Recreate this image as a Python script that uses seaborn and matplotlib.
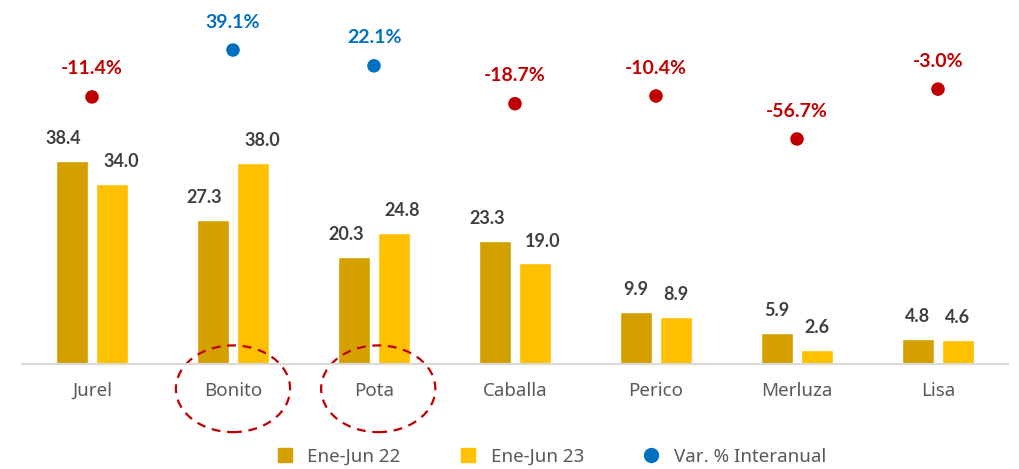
import numpy as np
import pandas as pd
import matplotlib
matplotlib.use('Agg')
import matplotlib.pyplot as plt
from matplotlib.lines import Line2D
from matplotlib.patches import Ellipse
import seaborn as sns

# Data
species = ['Jurel', 'Bonito', 'Pota', 'Caballa', 'Perico', 'Merluza', 'Lisa']
ene_jun_22 = [38.4, 27.3, 20.3, 23.3, 9.9, 5.9, 4.8]
ene_jun_23 = [34.0, 38.0, 24.8, 19.0, 8.9, 2.6, 4.6]
var_interanual = [-11.4, 39.1, 22.1, -18.7, -10.4, -56.7, -3.0]
series_names = ['Ene-Jun 22', 'Ene-Jun 23']
var_name = 'Var. % Interanual'
highlighted = ['Bonito', 'Pota']

dark_gold = '#D4A000'
gold = '#FFC000'
blue = '#0070C0'
red = '#C00000'

sns.set_style('white')
plt.rcParams['font.family'] = ['Noto Sans', 'DejaVu Sans']
bold_font = ['Lato', 'DejaVu Sans']

data = pd.DataFrame({
    'species': species * 2,
    'periodo': [series_names[0]] * len(species) + [series_names[1]] * len(species),
    'valor': ene_jun_22 + ene_jun_23,
})

fig = plt.figure(figsize=(10.2, 4.69), dpi=100)
ax = fig.add_axes([21.5 / 1020, 105 / 469, 987 / 1020, 354 / 469])

sns.barplot(data=data, x='species', y='valor', hue='periodo', order=species,
            hue_order=series_names, palette=[dark_gold, gold], saturation=1,
            width=0.567, gap=0.2, legend=False, ax=ax)
ax.set_ylim(0, 66.9)
ax.set_xlim(-0.5, len(species) - 0.5)

# bar value labels (slight outward nudge on the taller groups, like the source)
nudge = [9, 9, 8, 8, 0, 0, 0]
for k, cont in enumerate(ax.containers):
    sign = -1 if k == 0 else 1
    for i, bar in enumerate(cont):
        h = bar.get_height()
        ax.annotate(f'{h:.1f}', (bar.get_x() + bar.get_width() / 2, h),
                    xytext=(sign * nudge[i] * 0.72, 10), textcoords='offset points',
                    ha='center', va='bottom', fontsize=13, fontweight='bold',
                    family=bold_font, color='#404040')

# secondary axis for the year-on-year variation
ax2 = ax.twinx()
var_df = pd.DataFrame({'pos': np.arange(len(species)), 'var': var_interanual})
var_df['signo'] = np.where(var_df['var'] >= 0, 'pos', 'neg')
sns.scatterplot(data=var_df, x='pos', y='var', hue='signo',
                palette={'pos': blue, 'neg': red}, s=95, edgecolor='none',
                legend=False, ax=ax2)
ax2.set_ylim(-299, 82.2)
for x, v in zip(var_df['pos'], var_df['var']):
    ax2.annotate(f'{v:.1f}%', (x, v), xytext=(0, 14), textcoords='offset points',
                 ha='center', va='bottom', fontsize=14, fontweight='bold',
                 family=bold_font, color=blue if v >= 0 else red)

for a in (ax, ax2):
    for s in ['top', 'right', 'left']:
        a.spines[s].set_visible(False)
    a.set_yticks([])
    a.set_ylabel('')
ax2.spines['bottom'].set_visible(False)
ax.spines['bottom'].set_color('#D9D9D9')
ax.spines['bottom'].set_linewidth(1.5)
ax.set_xlabel('')
ax.tick_params(axis='x', length=0, pad=13, labelsize=13.5, labelcolor='#595959')

# dashed circles around highlighted species
trans = matplotlib.transforms.blended_transform_factory(ax.transData, ax.transAxes)
for name in highlighted:
    i = species.index(name)
    ax.add_patch(Ellipse((i + (0.03 if name == 'Pota' else 0), -0.07), 0.81, 0.245,
                         transform=trans, fill=False, edgecolor=red, lw=1.6,
                         linestyle=(0, (4, 3)), clip_on=False))

handles = [
    Line2D([], [], marker='s', linestyle='none', markersize=10, color=dark_gold),
    Line2D([], [], marker='s', linestyle='none', markersize=10, color=gold),
    Line2D([], [], marker='o', linestyle='none', markersize=10, color=blue),
]
fig.legend(handles, series_names + [var_name], loc='center', ncol=3,
           bbox_to_anchor=(546 / 1020, 1 - 457 / 469), frameon=False,
           fontsize=13.5, labelcolor='#595959', handletextpad=0.2,
           columnspacing=2.6)

fig.savefig('out.png', dpi=100)
